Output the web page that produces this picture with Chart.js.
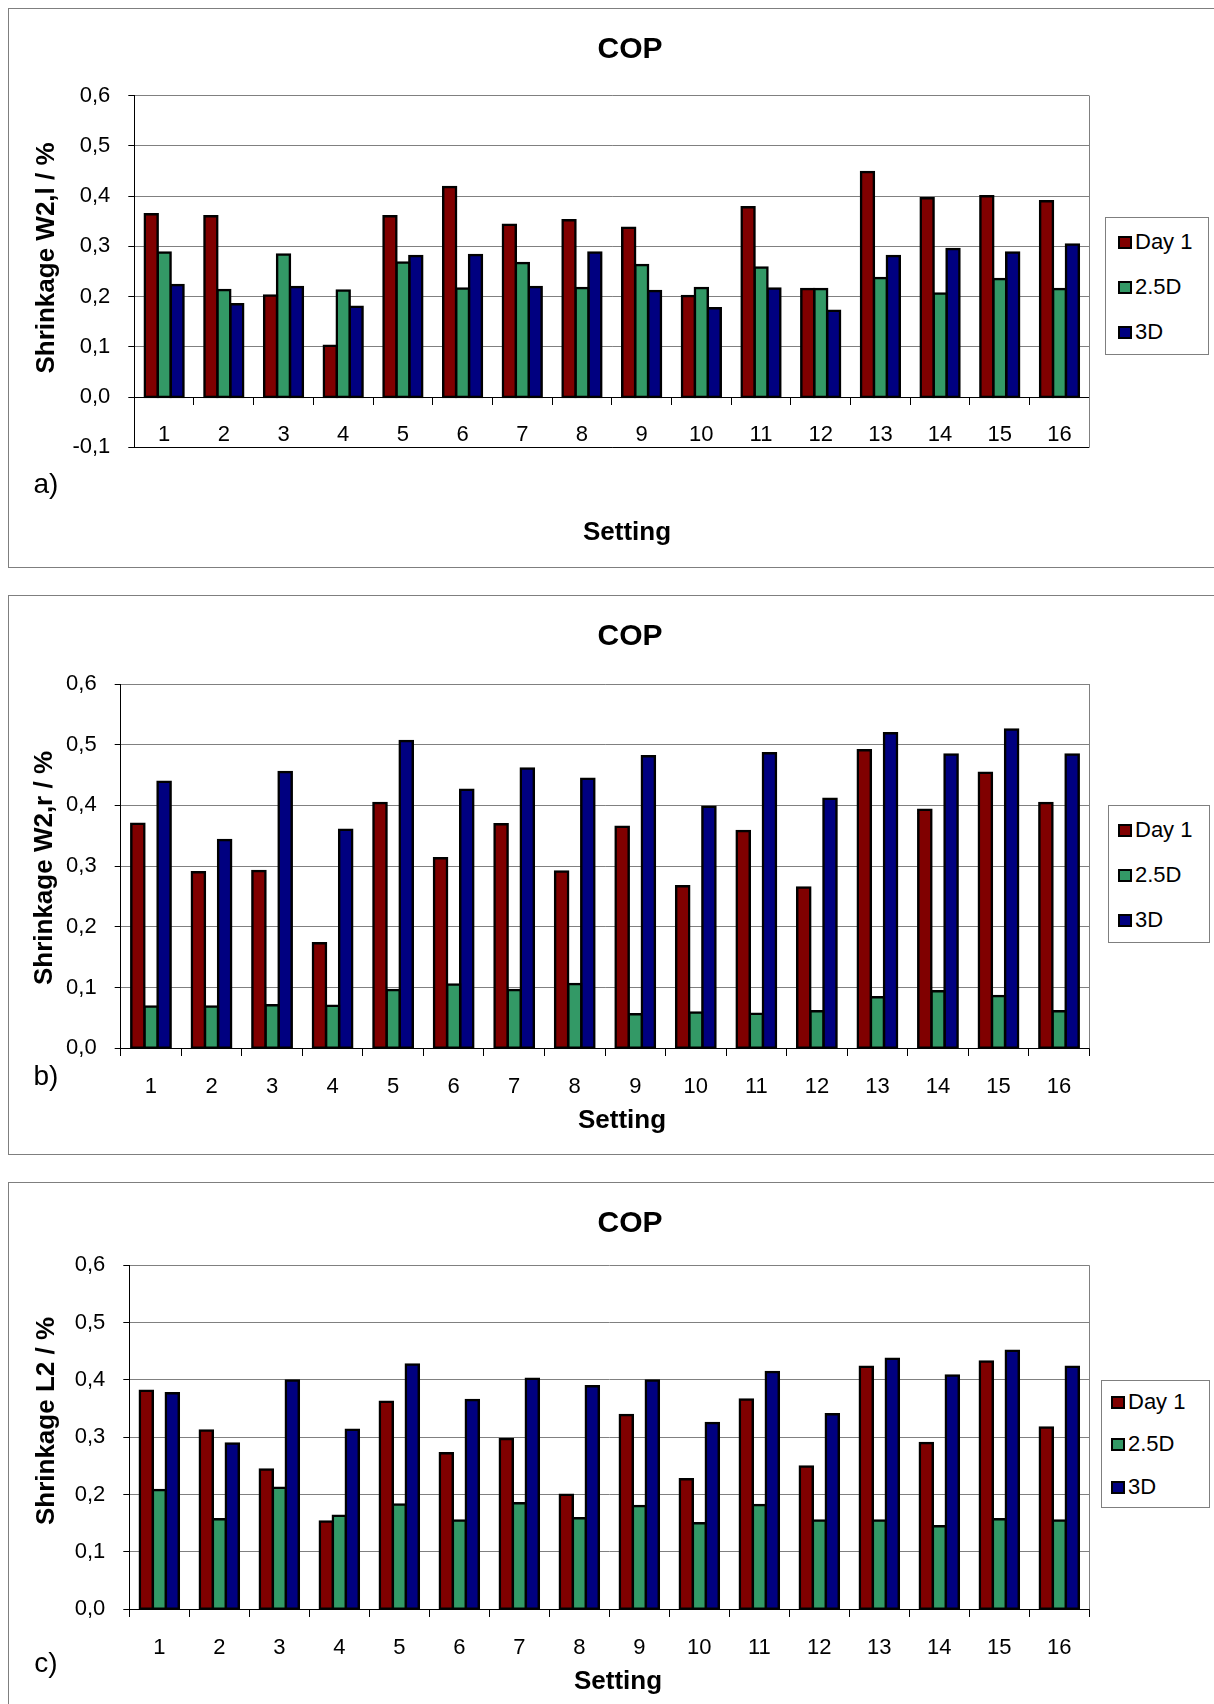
<!DOCTYPE html>
<html>
<head>
<meta charset="utf-8">
<title>COP shrinkage</title>
<script src="https://cdn.jsdelivr.net/npm/chart.js@4.4.1/dist/chart.umd.min.js"></script>
<style>
    body { margin: 0; width: 1214px; height: 1704px; overflow: hidden; background: #fff; position: relative;
           font-family: "Liberation Sans", Arial, sans-serif; color: #000; }
    .panel { position: absolute; left: 8px; width: 1230px; border: 1px solid #7f7f7f; box-sizing: border-box; }
    .chart-box { position: absolute; left: 0; width: 1100px; }
    .txt { position: absolute; transform: translate(-50%, -50%); white-space: nowrap; line-height: 1; }
    .title { font-size: 30px; font-weight: bold; }
    .xtitle { font-size: 26px; font-weight: bold; }
    .ytitle { font-size: 26px; font-weight: bold; transform: translate(-50%, -50%) rotate(-90deg); }
    .tag { font-size: 28px; }
    .legend { position: absolute; border: 1px solid #7f7f7f; background: #fff; box-sizing: border-box; }
    .swatch { position: absolute; width: 14px; height: 13px; border: 2px solid #000; box-sizing: border-box; }
    .ltext { position: absolute; font-size: 22px; line-height: 1; transform: translateY(-50%); white-space: nowrap; }
</style>
</head>
<body>

<script>
// Data
const settings = ['1', '2', '3', '4', '5', '6', '7', '8', '9', '10', '11', '12', '13', '14', '15', '16'];
const seriesNames = ['Day 1', '2.5D', '3D'];

// a) Shrinkage W2,l
const day1A = [0.364, 0.360, 0.202, 0.102, 0.360, 0.418, 0.343, 0.352, 0.337, 0.201, 0.378, 0.215, 0.448, 0.396, 0.400, 0.390];
const d25A  = [0.288, 0.213, 0.284, 0.212, 0.268, 0.216, 0.267, 0.217, 0.263, 0.217, 0.258, 0.215, 0.237, 0.206, 0.235, 0.215];
const d3A   = [0.223, 0.185, 0.219, 0.180, 0.281, 0.283, 0.219, 0.288, 0.211, 0.177, 0.216, 0.172, 0.281, 0.295, 0.288, 0.304];

// b) Shrinkage W2,r
const day1B = [0.370, 0.290, 0.292, 0.173, 0.404, 0.313, 0.369, 0.291, 0.365, 0.267, 0.358, 0.265, 0.491, 0.393, 0.454, 0.404];
const d25B  = [0.069, 0.069, 0.071, 0.070, 0.096, 0.105, 0.096, 0.106, 0.056, 0.059, 0.057, 0.061, 0.084, 0.094, 0.086, 0.061];
const d3B   = [0.439, 0.343, 0.455, 0.360, 0.506, 0.426, 0.461, 0.444, 0.481, 0.398, 0.486, 0.411, 0.519, 0.484, 0.525, 0.484];

// c) Shrinkage L2
const day1C = [0.381, 0.312, 0.244, 0.153, 0.362, 0.272, 0.297, 0.200, 0.339, 0.227, 0.366, 0.249, 0.423, 0.290, 0.432, 0.317];
const d25C  = [0.208, 0.157, 0.212, 0.163, 0.183, 0.155, 0.185, 0.159, 0.180, 0.150, 0.182, 0.155, 0.155, 0.145, 0.157, 0.155];
const d3C   = [0.377, 0.289, 0.399, 0.313, 0.427, 0.365, 0.402, 0.389, 0.399, 0.325, 0.414, 0.340, 0.437, 0.408, 0.451, 0.423];

const yTicksA = ['-0,1', '0,0', '0,1', '0,2', '0,3', '0,4', '0,5', '0,6'];
const yTicksBC = ['0,0', '0,1', '0,2', '0,3', '0,4', '0,5', '0,6'];

const colors = ['#800000', '#339966', '#000080'];

Chart.defaults.font.family = '"Liberation Sans", Arial, sans-serif';
Chart.defaults.color = '#000';

// grey right edge of the plot area
const plotEdge = {
    id: 'plotEdge',
    beforeDatasetsDraw(chart) {
        const ctx = chart.ctx;
        const a = chart.chartArea;
        const x = Math.round(a.right) + 0.5;
        ctx.save();
        ctx.strokeStyle = '#808080';
        ctx.lineWidth = 1;
        ctx.beginPath();
        ctx.moveTo(x, a.top);
        ctx.lineTo(x, a.bottom);
        ctx.stroke();
        ctx.restore();
    }
};

function addText(cls, text, x, y) {
    const el = document.createElement('div');
    el.className = 'txt ' + cls;
    el.textContent = text;
    el.style.left = x + 'px';
    el.style.top = y + 'px';
    document.body.appendChild(el);
}

function addLegend(box, swatchX, rows) {
    const lg = document.createElement('div');
    lg.className = 'legend';
    lg.style.left = box[0] + 'px';
    lg.style.top = box[1] + 'px';
    lg.style.width = (box[2] - box[0]) + 'px';
    lg.style.height = (box[3] - box[1]) + 'px';
    document.body.appendChild(lg);

    seriesNames.forEach(function(name, i) {
        const sw = document.createElement('div');
        sw.className = 'swatch';
        sw.style.background = colors[i];
        sw.style.left = swatchX + 'px';
        sw.style.top = (rows[i] - 6) + 'px';
        document.body.appendChild(sw);

        const t = document.createElement('div');
        t.className = 'ltext';
        t.textContent = name;
        t.style.left = (swatchX + 17) + 'px';
        t.style.top = rows[i] + 'px';
        document.body.appendChild(t);
    });
}

function makePanel(p) {
    const frame = document.createElement('div');
    frame.className = 'panel';
    frame.style.top = p.frameTop + 'px';
    frame.style.height = p.frameHeight + 'px';
    document.body.appendChild(frame);

    const wrap = document.createElement('div');
    wrap.className = 'chart-box';
    wrap.style.top = p.top + 'px';
    wrap.style.height = p.height + 'px';
    const canvas = document.createElement('canvas');
    canvas.width = 1100;
    canvas.height = p.height;
    wrap.appendChild(canvas);
    document.body.appendChild(wrap);

    new Chart(canvas, {
        type: 'bar',
        data: {
            labels: settings,
            datasets: p.series.map(function(values, i) {
                return { label: seriesNames[i], data: values, backgroundColor: colors[i] };
            })
        },
        options: {
            responsive: false,
            animation: false,
            layout: { padding: { left: 0, top: p.padTop, right: 1100 - p.plotRight, bottom: p.padBottom } },
            plugins: { legend: { display: false }, tooltip: { enabled: false } },
            datasets: {
                bar: {
                    categoryPercentage: 0.65,
                    barPercentage: 1,
                    borderColor: '#000',
                    borderWidth: 2.5,
                    borderSkipped: false,
                    inflateAmount: 1.25
                }
            },
            scales: {
                x: {
                    position: { y: 0 },
                    offset: true,
                    grid: { offset: true, drawOnChartArea: false, tickLength: 7, tickColor: '#000', tickWidth: 1 },
                    border: { display: true, color: '#000', width: 1 },
                    ticks: { color: '#000', font: { size: 22 }, padding: 18, maxRotation: 0, autoSkip: false },
                    afterFit: function(scale) { scale.height = 0; }
                },
                y: {
                    min: p.yMin,
                    max: 0.6,
                    ticks: {
                        stepSize: 0.1,
                        color: '#000',
                        font: { size: 22 },
                        padding: 18,
                        callback: function(v, i) { return p.yLabels[i]; }
                    },
                    grid: {
                        color: function(ctx) { return ctx.index === 0 ? '#000' : '#808080'; },
                        tickColor: '#000',
                        tickLength: 6,
                        lineWidth: 1
                    },
                    border: { color: '#000', width: 1 },
                    afterFit: function(scale) { scale.width = p.plotLeft; }
                }
            }
        },
        plugins: [plotEdge]
    });

    addText('title', 'COP', 630, p.titleY);
    addText('ytitle', p.yTitle, p.yTitleX, p.yTitleY);
    addText('xtitle', 'Setting', p.xTitleX, p.xTitleY);
    addText('tag', p.tag, 46, p.tagY);
    addLegend(p.legendBox, p.swatchX, p.legendRows);
}

makePanel({
    frameTop: 8, frameHeight: 560,
    top: 9, height: 558, padTop: 86.7, padBottom: 119.7, plotLeft: 134.3, plotRight: 1089.3,
    yMin: -0.1, yLabels: yTicksA, series: [day1A, d25A, d3A],
    titleY: 48, yTitle: 'Shrinkage W2,l / %', yTitleX: 45, yTitleY: 258,
    xTitleX: 627, xTitleY: 531, tag: 'a)', tagY: 484,
    legendBox: [1105, 217, 1209, 355], swatchX: 1118, legendRows: [242, 287, 332]
});

makePanel({
    frameTop: 595, frameHeight: 560,
    top: 595, height: 560, padTop: 89, padBottom: 106.7, plotLeft: 120.7, plotRight: 1089.3,
    yMin: 0, yLabels: yTicksBC, series: [day1B, d25B, d3B],
    titleY: 635, yTitle: 'Shrinkage W2,r / %', yTitleX: 43, yTitleY: 868,
    xTitleX: 622, xTitleY: 1119, tag: 'b)', tagY: 1076,
    legendBox: [1108, 805, 1210, 943], swatchX: 1118, legendRows: [830, 875, 920]
});

makePanel({
    frameTop: 1182, frameHeight: 540,
    top: 1182, height: 522, padTop: 83.3, padBottom: 94.7, plotLeft: 129.3, plotRight: 1089.3,
    yMin: 0, yLabels: yTicksBC, series: [day1C, d25C, d3C],
    titleY: 1222, yTitle: 'Shrinkage L2 / %', yTitleX: 45, yTitleY: 1421,
    xTitleX: 618, xTitleY: 1680, tag: 'c)', tagY: 1663,
    legendBox: [1101, 1380, 1210, 1508], swatchX: 1111, legendRows: [1402, 1444, 1487]
});
</script>
</body>
</html>
